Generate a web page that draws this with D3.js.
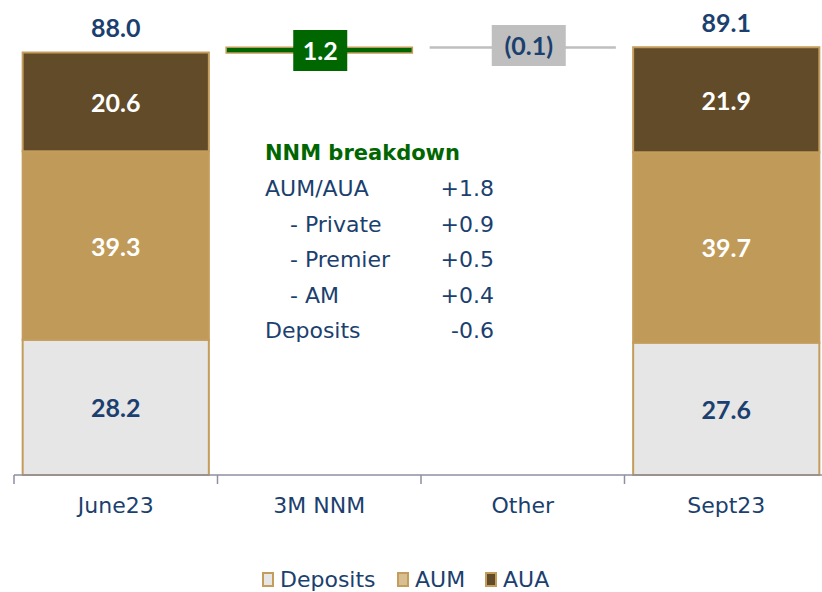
<!DOCTYPE html>
<html><head><meta charset="utf-8">
<script src="https://cdn.jsdelivr.net/npm/d3@7"></script>
<style>body{margin:0;background:#fff}svg{display:block}text{font-family:"DejaVu Sans",sans-serif}.num{font-family:"Lato","DejaVu Sans",sans-serif;font-weight:bold}</style>
</head><body><svg id="c" width="822" height="592"></svg>
<script>
const categories = ["June23", "3M NNM", "Other", "Sept23"];
const seriesNames = ["Deposits", "AUM", "AUA"];
const deposits = [28.2, null, null, 27.6];
const aum = [39.3, null, null, 39.7];
const aua = [20.6, null, null, 21.9];
const totals = [88.0, null, null, 89.1];
const bridgeDeltas = [null, 1.2, -0.1, null];
const bridgeLabels = [null, "1.2", "(0.1)", null];
const breakdownTitle = "NNM breakdown";
const breakdownLabels = ["AUM/AUA", "- Private", "- Premier", "- AM", "Deposits"];
const breakdownIndent = [0, 1, 1, 1, 0];
const breakdownValues = ["+1.8", "+0.9", "+0.5", "+0.4", "-0.6"];

const colors = {Deposits:"#e6e6e6", AUM:"#bf9a58", AUA:"#624b29"};
const legendColors = {Deposits:"#e6e6e6", AUM:"#d8bf92", AUA:"#624b29"};
const stroke = "#c49c5c", navy = "#1b3f6e", green = "#006600";
const svg = d3.select("#c");
const x = d3.scaleBand().domain(categories).range([14, 828]).paddingInner(0.085).paddingOuter(0.0425);
const y = d3.scaleLinear().domain([0, 88.0]).range([475, 53]);

// stacked bars
const rows = categories.map((c,i)=>({cat:c, Deposits:deposits[i], AUM:aum[i], AUA:aua[i]})).filter(d=>d.Deposits!=null);
const stack = d3.stack().keys(seriesNames)(rows);
stack.forEach(layer=>{
  const key = layer.key;
  layer.forEach(seg=>{
    svg.append("rect").attr("x", x(seg.data.cat)).attr("width", x.bandwidth())
      .attr("y", y(seg[1])).attr("height", y(seg[0]) - y(seg[1]))
      .attr("fill", colors[key]).attr("stroke", stroke).attr("stroke-width", 2);
  });
});
stack.forEach(layer=>{
  layer.forEach(seg=>{
    svg.append("text").attr("class","num").attr("x", x(seg.data.cat)+x.bandwidth()/2).attr("y", y((seg[0]+seg[1])/2)+10)
      .attr("text-anchor","middle").attr("font-size",25)
      .attr("fill", layer.key==="Deposits"? navy : "#fff").text(d3.format(".1f")(seg.data[layer.key]));
  });
});
// totals
categories.forEach((c,i)=>{
  if(totals[i]==null) return;
  svg.append("text").attr("class","num").attr("x", x(c)+x.bandwidth()/2).attr("y", y(totals[i])-16)
    .attr("text-anchor","middle").attr("font-size",25).attr("fill",navy).text(d3.format(".1f")(totals[i]));
});
// bridge
let running = totals[0];
categories.forEach((c,i)=>{
  if(bridgeDeltas[i]==null) return;
  const a = running, b = running + bridgeDeltas[i];
  running = b;
  const top = y(Math.max(a,b)), bot = y(Math.min(a,b));
  const pos = bridgeDeltas[i] > 0;
  const cx = x(c)+x.bandwidth()/2 + (pos ? 1 : 6);
  if(pos){
    svg.append("rect").attr("x", x(c)).attr("width", x.bandwidth()).attr("y", top).attr("height", bot-top)
      .attr("fill", green).attr("stroke", stroke).attr("stroke-width", 1.5);
  } else {
    svg.append("rect").attr("x", x(c)).attr("width", x.bandwidth()).attr("y", top-1).attr("height", Math.max(bot-top,2.5))
      .attr("fill", "#bfbfbf");
  }
  const lab = bridgeLabels[i];
  const w = pos ? 54 : 74;
  const boxY = pos ? 30 : 25;
  svg.append("rect").attr("x", cx-w/2).attr("y", boxY).attr("width", w).attr("height", 41)
    .attr("fill", pos? green : "#bfbfbf");
  svg.append("text").attr("class","num").attr("x", cx).attr("y", boxY+30).attr("text-anchor","middle")
    .attr("font-size",25).attr("fill", pos? "#fff": navy).text(lab);
});

// axis
const axisG = svg.append("g").attr("transform","translate(0,475)");
axisG.append("line").attr("x1",14).attr("x2",822).attr("y1",0).attr("y2",0).attr("stroke","#8e8fa0").attr("stroke-width",1.5);
const tickXs = categories.map(c=>x(c)-x.step()*x.paddingInner()/2);
tickXs.forEach(t=>axisG.append("line").attr("x1",t).attr("x2",t).attr("y1",0).attr("y2",9).attr("stroke","#8e8fa0").attr("stroke-width",1.5));
categories.forEach(c=>axisG.append("text").attr("x", x(c)+x.bandwidth()/2).attr("y", 38).attr("text-anchor","middle")
  .attr("font-size",22).attr("fill",navy).text(c));

// breakdown text
const bt = svg.append("g");
bt.append("text").attr("x",265).attr("y",160).attr("font-size",21).attr("font-weight","bold").attr("fill",green).text(breakdownTitle);
breakdownLabels.forEach((l,i)=>{
  bt.append("text").attr("x",265 + breakdownIndent[i]*25).attr("y",196+i*35.5).attr("font-size",22).attr("fill",navy).text(l);
  bt.append("text").attr("x",494).attr("y",196+i*35.5).attr("text-anchor","end").attr("font-size",22).attr("fill",navy).text(breakdownValues[i]);
});

// legend
const legX = [263, 398, 486];
seriesNames.forEach((s,i)=>{
  svg.append("rect").attr("x",legX[i]).attr("y",573).attr("width",10).attr("height",13).attr("fill",legendColors[s]).attr("stroke",stroke).attr("stroke-width",2);
  svg.append("text").attr("x",legX[i]+17).attr("y",587).attr("font-size",22).attr("fill",navy).text(s);
});
</script></body></html>
